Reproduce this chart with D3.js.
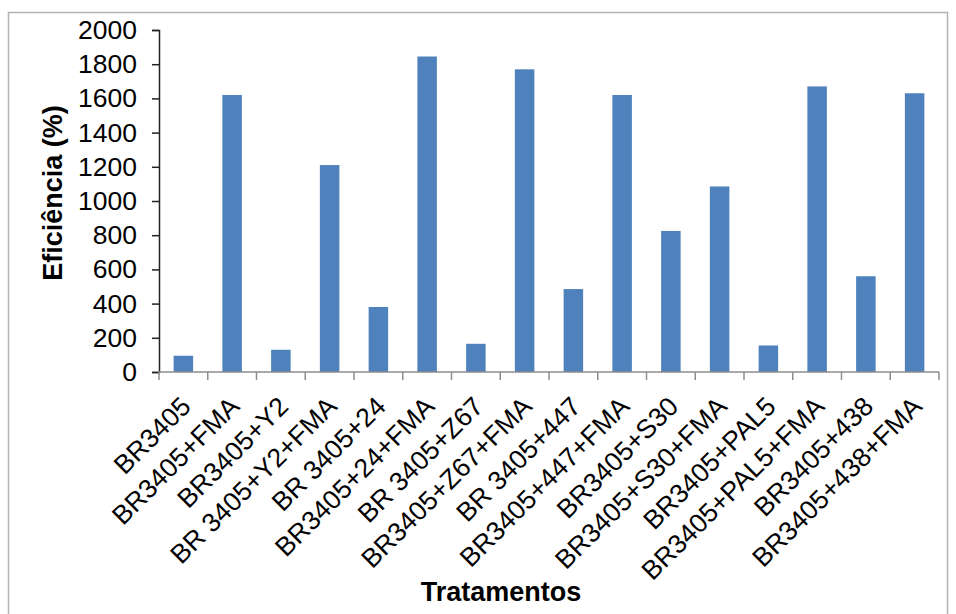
<!DOCTYPE html>
<html>
<head>
<meta charset="utf-8">
<script src="https://cdn.jsdelivr.net/npm/d3@7"></script>
<style>
  html, body { margin: 0; padding: 0; background: #fff; }
  svg { display: block; font-family: "Liberation Sans", Arial, sans-serif; }
</style>
</head>
<body>
<svg id="chart" width="956" height="614"></svg>
<script>
// Treatments and their efficiency values (%)
const categories = [
  "BR3405", "BR3405+FMA", "BR3405+Y2", "BR 3405+Y2+FMA",
  "BR 3405+24", "BR3405+24+FMA", "BR 3405+Z67", "BR3405+Z67+FMA",
  "BR 3405+447", "BR3405+447+FMA", "BR3405+S30", "BR3405+S30+FMA",
  "BR3405+PAL5", "BR3405+PAL5+FMA", "BR3405+438", "BR3405+438+FMA"
];
const values = [95, 1620, 130, 1210, 380, 1845, 165, 1770, 485, 1620, 825, 1085, 155, 1670, 560, 1630];
const yTicks = [0, 200, 400, 600, 800, 1000, 1200, 1400, 1600, 1800, 2000];

const svg = d3.select("#chart");
const plot = { left: 159, right: 939, top: 30, bottom: 372 };

// outer chart frame
svg.append("rect")
  .attr("x", 8.5).attr("y", 12.5)
  .attr("width", 939).attr("height", 700)
  .attr("fill", "none").attr("stroke", "#b3b3b3").attr("stroke-width", 1.5);

const x = d3.scaleBand().domain(categories)
  .range([plot.left, plot.right]).paddingInner(0.6).paddingOuter(0.3);
const y = d3.scaleLinear().domain([0, 2000]).range([plot.bottom, plot.top]);

// bars
svg.append("g").selectAll("rect").data(values).join("rect")
  .attr("x", (d, i) => x(categories[i]))
  .attr("y", d => y(d))
  .attr("width", x.bandwidth())
  .attr("height", d => y(0) - y(d))
  .attr("fill", "#4f81bd");

// y axis
const yAxis = svg.append("g")
  .attr("transform", `translate(${plot.left},0)`)
  .call(d3.axisLeft(y).tickValues(yTicks).tickSize(7).tickPadding(15).tickFormat(d3.format("d")));
yAxis.select(".domain").attr("stroke", "#222").attr("stroke-width", 1.5);
yAxis.selectAll(".tick line").attr("stroke", "#222").attr("stroke-width", 1.5);
yAxis.selectAll("text").attr("font-size", 26.5).attr("fill", "#000")
  .attr("font-family", "Liberation Sans, Arial, sans-serif");

// x axis: tick marks at category boundaries
const step = (plot.right - plot.left) / categories.length;
const xg = svg.append("g");
xg.append("line")
  .attr("x1", plot.left).attr("x2", plot.right)
  .attr("y1", plot.bottom).attr("y2", plot.bottom)
  .attr("stroke", "#8c8c8c").attr("stroke-width", 1.5);
xg.selectAll("line.tk").data(d3.range(categories.length + 1)).join("line")
  .attr("class", "tk")
  .attr("x1", i => plot.left + i * step).attr("x2", i => plot.left + i * step)
  .attr("y1", plot.bottom).attr("y2", plot.bottom + 8)
  .attr("stroke", "#8c8c8c").attr("stroke-width", 1.5);

// rotated category labels
xg.selectAll("text").data(categories).join("text")
  .attr("transform", d => `translate(${x(d) + x.bandwidth() / 2 + 9},${plot.bottom + 36}) rotate(-45)`)
  .attr("text-anchor", "end")
  .attr("font-size", 26.5)
  .attr("fill", "#000")
  .text(d => d);

// axis titles
svg.append("text")
  .attr("transform", `translate(62,193) rotate(-90)`)
  .attr("text-anchor", "middle")
  .attr("font-size", 27).attr("font-weight", "bold")
  .text("Eficiência (%)");

svg.append("text")
  .attr("x", 501).attr("y", 601)
  .attr("text-anchor", "middle")
  .attr("font-size", 27).attr("font-weight", "bold")
  .text("Tratamentos");
</script>
</body>
</html>
